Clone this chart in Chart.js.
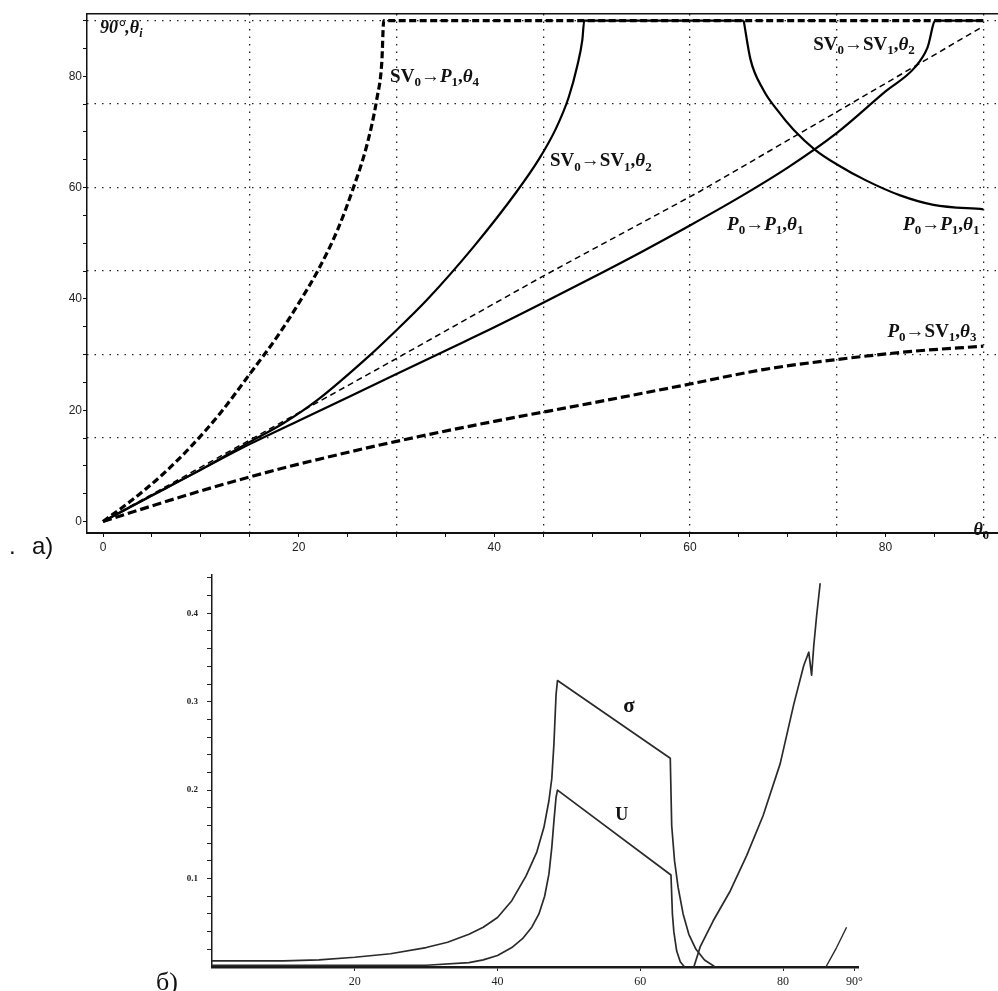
<!DOCTYPE html>
<html>
<head>
<meta charset="utf-8">
<title>θ0 → θi ; σ, U</title>
<script src="https://cdn.jsdelivr.net/npm/chart.js@4.4.1/dist/chart.umd.min.js"></script>
<style>
  body { margin: 0; background: #fff; }
  #wrap { position: relative; width: 998px; height: 991px; overflow: hidden; }
  canvas { position: absolute; left: 0; }
  #topChart { top: 0; }
  #botChart { top: 560px; }
  .tag { position: absolute; color: #111; line-height: 1; }
</style>
</head>
<body>
<div id="wrap">
  <canvas id="topChart" width="998" height="560"></canvas>
  <canvas id="botChart" width="998" height="431"></canvas>
  <div class="tag" style="left:9px;top:532px;font:24px 'Liberation Sans'">.</div>
  <div class="tag" style="left:32px;top:532px;font:24px 'Liberation Sans'">а)</div>
  <div class="tag" style="left:156px;top:967px;font:26px 'Liberation Serif'">б)</div>
</div>
<script>
// --- а) refraction angle θi against incidence θ0 ---
const topXTicks = [0, 20, 40, 60, 80]
const topYTicks = [0, 20, 40, 60, 80]
const topGridLines = [15, 30, 45, 60, 75, 90]

// thin dashed reference line
const diagLine = [[0, 0], [29.3, 28.6], [44.9, 44], [61, 59.3], [75.4, 74], [90, 89]]
// P0 -> SV1, θ3 (thick dashed)
const p0Sv1T3 = [[0, 0], [5, 2.8], [10, 5.5], [15, 8], [20, 10.3], [30, 14.4], [40, 18], [50, 21.3],
  [60, 24.7], [67.5, 27.3], [75, 29.1], [82.9, 30.6], [90, 31.5]]
// SV0 -> P1, θ4 (thick dashed, then along 90°)
const sv0P1T4 = [[0, 0], [3, 3.9], [6, 8.3], [9, 13.5], [12, 19.5], [15, 26.5], [18, 33.7], [20, 39.2],
  [22, 45.2], [24, 52.5], [25.5, 59.5], [27, 67.8], [28, 76], [28.5, 82.5], [28.7, 90], [90, 90]]
// SV0 -> SV1, θ2 (solid)
const sv0Sv1T2 = [[0, 0], [5.5, 5.1], [10.6, 9.9], [15, 14.3], [18.4, 17.6], [21.9, 21.8], [27.3, 29.9],
  [29.3, 33.2], [33.1, 39.8], [37.9, 49.4], [42.3, 59.3], [44.6, 65.2], [46.3, 70.6], [47.6, 76.2],
  [48.5, 82], [49, 86.5], [49.2, 90], [65.5, 90]]
// P0 -> P1, θ1 (solid, rising)
const p0P1T1 = [[0, 0], [5, 4.7], [10, 9.3], [15, 13.9], [20, 18.1], [25, 22.3], [30, 26.5], [35, 30.7],
  [40, 34.9], [45, 39.3], [50, 43.8], [55, 48.4], [60, 53.2], [65, 58.2], [70, 63.6], [75, 69.8],
  [80, 77.3], [83, 81.6], [84.3, 85.2], [85.1, 90], [90, 90]]
// P0 -> P1, θ1 (solid, falling branch)
const p0P1T1Fall = [[65.5, 90], [66.2, 83], [67.5, 77.6], [68.9, 74], [70.6, 70.4], [72.8, 66.8],
  [75, 64.2], [78, 61.3], [81.5, 58.6], [84.9, 56.9], [90, 56.1]]

const topNotes = [
  { text: 'SV_0→*P*_1,*θ*_4', x: 29.35, y: 79.0 },
  { text: 'SV_0→SV_1,*θ*_2', x: 45.7, y: 63.8 },
  { text: 'SV_0→SV_1,*θ*_2', x: 72.6, y: 84.8 },
  { text: '*P*_0→*P*_1,*θ*_1', x: 63.8, y: 52.4 },
  { text: '*P*_0→*P*_1,*θ*_1', x: 81.8, y: 52.4 },
  { text: '*P*_0→SV_1,*θ*_3', x: 80.2, y: 33.2 },
  { text: '*90°,θ_i*', x: -0.3, y: 87.8, size: 18 },
  { text: '*θ*_0', x: 89.0, y: -2.4, size: 18 }
]

// --- б) σ and U against θ0 ---
const botXTicks = [20, 40, 60, 80, 90]
const botXLabels = ['20', '40', '60', '80', '90°']
const botYTicks = [0.1, 0.2, 0.3, 0.4]

const sigma = [[0, 0.007], [10, 0.007], [15, 0.008], [20, 0.011], [25, 0.015], [30, 0.022], [33, 0.028],
  [36, 0.037], [38, 0.045], [40, 0.056], [42, 0.075], [44, 0.103], [45.5, 0.13], [46.5, 0.158],
  [47.2, 0.188], [47.6, 0.213], [47.9, 0.252], [48.2, 0.308], [48.4, 0.324], [64.2, 0.236],
  [64.4, 0.16], [64.8, 0.12], [65.3, 0.09], [66, 0.06], [66.8, 0.037], [67.8, 0.02], [69, 0.008],
  [70.5, 0]]
const uAmp = [[0, 0.002], [30, 0.002], [36, 0.005], [38, 0.008], [40, 0.013], [42, 0.022], [43.5, 0.032],
  [44.8, 0.045], [45.8, 0.06], [46.6, 0.08], [47.2, 0.105], [47.6, 0.135], [47.9, 0.165], [48.2, 0.192],
  [48.4, 0.2], [64.3, 0.104], [64.5, 0.06], [64.7, 0.04], [65.1, 0.018], [65.6, 0.006], [66.2, 0]]
const riseA = [[67.5, 0], [68.4, 0.023], [70.2, 0.052], [72.6, 0.086], [74.9, 0.126], [77.2, 0.171],
  [79.6, 0.23], [81.5, 0.297], [82.9, 0.341], [83.6, 0.356], [84, 0.33], [84.3, 0.363],
  [84.7, 0.397], [85.2, 0.434]]
const riseB = [[86, 0], [87.5, 0.022], [88.9, 0.045]]

const botNotes = [
  { text: 'σ', x: 57.6, y: 0.288, size: 21 },
  { text: 'U', x: 56.5, y: 0.166, size: 18 }
]

// helpers
const steps = (a, b, d) => Array.from({ length: Math.round((b - a) / d) + 1 }, (_, i) => +(a + i * d).toFixed(4))

const line = (arr, width, dash, color, mode) => ({
  data: arr.map(([x, y]) => ({ x, y })),
  showLine: true,
  borderColor: color || '#000',
  borderWidth: width,
  borderDash: dash,
  borderCapStyle: 'butt',
  borderJoinStyle: 'round',
  pointRadius: 0,
  fill: false,
  tension: 0,
  cubicInterpolationMode: mode || 'default'
})

// "SV_0" -> subscript, "*P*" -> italic
function parts(s) {
  const out = []
  let it = false
  for (let i = 0; i < s.length; i++) {
    const c = s[i]
    if (c === '*') { it = !it; continue }
    if (c === '_') { out.push({ t: s[++i], sub: true, it }); continue }
    const last = out[out.length - 1]
    if (last && !last.sub && last.it === it) last.t += c
    else out.push({ t: c, it })
  }
  return out
}

const richLabels = {
  id: 'richLabels',
  afterDatasetsDraw(chart, args, opts) {
    const ctx = chart.ctx
    const xs = chart.scales.x, ys = chart.scales.y
    ctx.save()
    ctx.fillStyle = '#111'
    ctx.textBaseline = 'alphabetic'
    for (const n of opts.items) {
      const size = n.size || opts.size
      let px = xs.getPixelForValue(n.x)
      const py = ys.getPixelForValue(n.y)
      for (const p of parts(n.text)) {
        const fs = p.sub ? Math.round(size * 0.68) : size
        ctx.font = (p.it ? 'italic ' : '') + 'bold ' + fs + 'px "Liberation Serif"'
        ctx.fillText(p.t, px, py + (p.sub ? size * 0.22 : 0))
        px += ctx.measureText(p.t).width
      }
    }
    ctx.restore()
  }
}

Chart.defaults.animation = false
Chart.defaults.devicePixelRatio = 1

const dotDash = [1.5, 6]
const topXMin = -1.64, topXMax = 91.5
const topYMin = -2.07, topYMax = 91.2

new Chart(document.getElementById('topChart'), {
  type: 'scatter',
  data: {
    datasets: [
      line(diagLine, 1.5, [6, 4]),
      line(p0Sv1T3, 3.2, [9, 4], '#000', 'monotone'),
      line(sv0P1T4, 3.2, [7, 3.5], '#000', 'monotone'),
      line(sv0Sv1T2, 2.2, [], '#000', 'monotone'),
      line(p0P1T1, 2.2, [], '#000', 'monotone'),
      line(p0P1T1Fall, 2.2, [], '#000', 'monotone')
    ]
  },
  options: {
    responsive: false,
    layout: { padding: { top: 14, left: 0, right: 0, bottom: 0 } },
    plugins: {
      legend: { display: false },
      tooltip: { enabled: false },
      richLabels: { items: topNotes, size: 19 }
    },
    scales: {
      x: {
        type: 'linear', position: 'bottom', min: topXMin, max: topXMax,
        afterBuildTicks: s => { s.ticks = steps(0, 90, 5).map(v => ({ value: v })) },
        afterFit: s => { s.height = 27 },
        ticks: {
          autoSkip: false, maxRotation: 0, padding: 3, color: '#222',
          font: { family: 'Liberation Sans', size: 12 },
          callback: v => topXTicks.includes(v) ? String(v) : ''
        },
        grid: { drawOnChartArea: false, tickLength: 4, tickColor: '#111', tickWidth: 1 },
        border: { color: '#111', width: 2 }
      },
      xg: {
        type: 'linear', position: 'bottom', min: topXMin, max: topXMax,
        afterBuildTicks: s => { s.ticks = topGridLines.map(v => ({ value: v })) },
        afterFit: s => { s.height = 0 },
        ticks: { display: false },
        grid: { drawTicks: false, color: '#222', lineWidth: 1.3 },
        border: { display: false, dash: dotDash }
      },
      xTop: {
        type: 'linear', position: 'top', min: topXMin, max: topXMax,
        afterFit: s => { s.height = 0 },
        ticks: { display: false },
        grid: { display: false },
        border: { display: true, color: '#111', width: 1.5 }
      },
      y: {
        type: 'linear', position: 'left', min: topYMin, max: topYMax,
        afterBuildTicks: s => { s.ticks = steps(0, 90, 5).map(v => ({ value: v })) },
        afterFit: s => { s.width = 87 },
        ticks: {
          autoSkip: false, padding: 1, color: '#222',
          font: { family: 'Liberation Sans', size: 12 },
          callback: v => topYTicks.includes(v) ? String(v) : ''
        },
        grid: { drawOnChartArea: false, tickLength: 4, tickColor: '#111', tickWidth: 1 },
        border: { color: '#111', width: 1.5 }
      },
      yg: {
        type: 'linear', position: 'right', min: topYMin, max: topYMax,
        afterBuildTicks: s => { s.ticks = topGridLines.map(v => ({ value: v })) },
        afterFit: s => { s.width = 0 },
        ticks: { display: false },
        grid: { drawTicks: false, color: '#222', lineWidth: 1.3 },
        border: { display: false, dash: dotDash }
      }
    }
  },
  plugins: [richLabels]
})

const ink = '#2a2a2a'

new Chart(document.getElementById('botChart'), {
  type: 'scatter',
  data: {
    datasets: [
      line(sigma, 1.7, [], ink),
      line(uAmp, 1.7, [], ink),
      line(riseA, 1.7, [], ink),
      line(riseB, 1.4, [], ink)
    ]
  },
  options: {
    responsive: false,
    layout: { padding: { top: 7, left: 0, right: 140, bottom: 0 } },
    plugins: {
      legend: { display: false },
      tooltip: { enabled: false },
      richLabels: { items: botNotes, size: 20 }
    },
    scales: {
      x: {
        type: 'linear', min: 0, max: 90.5,
        afterBuildTicks: s => { s.ticks = botXTicks.map(v => ({ value: v })) },
        afterFit: s => { s.height = 24 },
        ticks: {
          autoSkip: false, maxRotation: 0, padding: 4, color: '#222',
          font: { family: 'Liberation Serif', size: 12 },
          callback: (v, i) => botXLabels[i]
        },
        grid: { drawOnChartArea: false, tickLength: 4, tickColor: '#222' },
        border: { color: '#1a1a1a', width: 2.5 }
      },
      y: {
        type: 'linear', min: 0, max: 0.444,
        afterBuildTicks: s => { s.ticks = steps(0.02, 0.44, 0.02).map(v => ({ value: v })) },
        afterFit: s => { s.width = 212 },
        ticks: {
          autoSkip: false, padding: 9, color: '#222',
          font: { family: 'Liberation Serif', size: 9, weight: 'bold' },
          callback: v => botYTicks.some(t => Math.abs(t - v) < 1e-6) ? v.toFixed(1) : ''
        },
        grid: { drawOnChartArea: false, tickLength: 5, tickColor: '#222' },
        border: { color: '#1a1a1a', width: 1.5 }
      }
    }
  },
  plugins: [richLabels]
})
</script>
</body>
</html>
